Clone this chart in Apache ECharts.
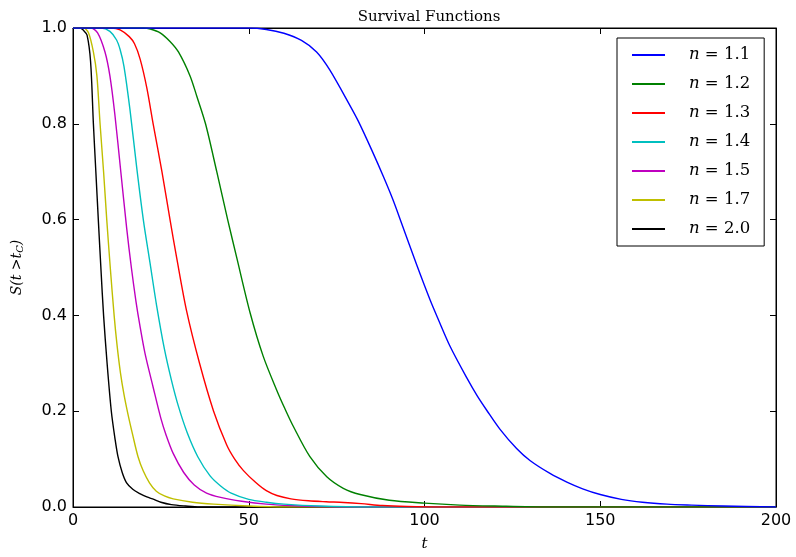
<!DOCTYPE html>
<html>
<head>
<meta charset="utf-8">
<script src="https://cdn.jsdelivr.net/npm/echarts@6/dist/echarts.min.js"></script>
<style>html,body{margin:0;padding:0;background:#fff;}#c{width:796px;height:557px;}</style>
</head>
<body>
<div id="c"></div>
<script>
const seriesNames = ['1.1', '1.2', '1.3', '1.4', '1.5', '1.7', '2.0'];
const seriesColors = ['#0000ff', '#008000', '#ff0000', '#00bfbf', '#bf00bf', '#bfbf00', '#000000'];

const t11 = [0, 50, 55, 60, 65, 69.3, 73, 78.8, 81.2, 85, 88.3, 91, 93.5, 97.8, 101.6, 103.9, 107.3, 112, 115, 117.7, 121.5, 126.2, 130, 135.7, 140.5, 145, 150, 156, 162, 169, 176, 185, 200];
const s11 = [1, 1, 0.997, 0.989, 0.974, 0.95, 0.913, 0.838, 0.805, 0.745, 0.69, 0.642, 0.592, 0.505, 0.432, 0.392, 0.335, 0.27, 0.232, 0.202, 0.162, 0.122, 0.097, 0.07, 0.052, 0.038, 0.026, 0.016, 0.01, 0.006, 0.004, 0.002, 0];

const t12 = [0, 20, 22, 24.8, 27.6, 30, 33.3, 35.2, 37.7, 40.9, 44, 46.6, 50.4, 54.1, 57.9, 60.3, 62.7, 67.4, 72.2, 76.9, 81.7, 90, 100, 110, 120, 135, 200];
const s12 = [1, 1, 0.998, 0.99, 0.972, 0.95, 0.9, 0.858, 0.8, 0.7, 0.6, 0.52, 0.405, 0.315, 0.245, 0.205, 0.168, 0.105, 0.063, 0.039, 0.026, 0.014, 0.008, 0.004, 0.002, 0, 0];

const t13 = [0, 11, 13.4, 16, 17.5, 19.1, 21, 22.8, 25.3, 27.6, 29.5, 32.3, 36, 40, 43.7, 46, 48.5, 52, 55, 58, 62, 67, 72, 77, 82, 88, 95, 105, 200];
const s13 = [1, 1, 0.996, 0.982, 0.967, 0.935, 0.875, 0.8, 0.7, 0.6, 0.52, 0.41, 0.3, 0.2, 0.13, 0.1, 0.076, 0.051, 0.034, 0.024, 0.017, 0.013, 0.011, 0.0095, 0.007, 0.003, 0.001, 0, 0];

const t14 = [0, 8, 10.5, 12.4, 13.4, 14.5, 16.2, 18.1, 20, 21.9, 23.8, 26, 28, 30, 32.5, 35.5, 39, 42, 45, 50, 55, 60, 70, 85, 200];
const s14 = [1, 1, 0.993, 0.975, 0.955, 0.92, 0.83, 0.71, 0.6, 0.51, 0.42, 0.33, 0.265, 0.21, 0.155, 0.105, 0.065, 0.044, 0.029, 0.016, 0.01, 0.006, 0.002, 0, 0];

const t15 = [0, 5, 7, 9.1, 10.5, 11.9, 13.6, 15.3, 16.6, 17.9, 19, 20.5, 22.8, 25, 26.5, 28.5, 31.5, 34.5, 38, 42, 48, 55, 65, 80, 200];
const s15 = [1, 1, 0.99, 0.95, 0.9, 0.82, 0.7, 0.58, 0.5, 0.43, 0.38, 0.32, 0.25, 0.185, 0.15, 0.112, 0.072, 0.046, 0.029, 0.02, 0.012, 0.006, 0.002, 0, 0];

const t17 = [0, 3, 4.4, 5.8, 6.8, 7.7, 8.7, 9.6, 10.6, 11.7, 12.5, 13.5, 14.5, 15.6, 17, 18.5, 20, 21.8, 23.7, 26, 28.5, 34, 40, 50, 60, 200];
const s17 = [1, 1, 0.99, 0.95, 0.9, 0.8, 0.7, 0.6, 0.5, 0.4, 0.34, 0.28, 0.235, 0.195, 0.15, 0.105, 0.075, 0.05, 0.033, 0.023, 0.017, 0.01, 0.006, 0.002, 0, 0];

const t20 = [0, 2, 3, 4, 5, 5.8, 6.5, 7.2, 8, 8.7, 9.7, 10.9, 12, 12.8, 14, 15.2, 17, 19, 21, 23, 25, 28, 32, 36, 200];
const s20 = [1, 1, 0.995, 0.985, 0.93, 0.8, 0.7, 0.6, 0.49, 0.4, 0.3, 0.2, 0.14, 0.105, 0.072, 0.051, 0.037, 0.028, 0.021, 0.016, 0.01, 0.005, 0.002, 0, 0];

const xTicks = [0, 50, 100, 150, 200];
const yTicks = [0, 0.2, 0.4, 0.6, 0.8, 1.0];

const tArrays = [t11, t12, t13, t14, t15, t17, t20];
const sArrays = [s11, s12, s13, s14, s15, s17, s20];

const chart = echarts.init(document.getElementById('c'));
const mathFont = 'DejaVu Serif';
const tickFont = 'DejaVu Sans';

const series = seriesNames.map((n, i) => ({
  name: n,
  type: 'line',
  xAxisIndex: 0,
  yAxisIndex: 0,
  data: tArrays[i].map((t, k) => [t, sArrays[i][k]]),
  showSymbol: false,
  symbol: 'none',
  smooth: 0.3,
  sampling: null,
  lineStyle: { color: seriesColors[i], width: 1.4, join: 'round' },
  itemStyle: { color: seriesColors[i] },
  z: 10 - i
}));

const axisCommon = {
  axisLine: { show: true, onZero: false, lineStyle: { color: '#000', width: 1 } },
  axisTick: { show: true, inside: true, length: 6, lineStyle: { color: '#000', width: 1 } },
  splitLine: { show: false }
};

chart.setOption({
  animation: false,
  backgroundColor: '#fff',
  title: {
    text: 'Survival Functions',
    left: 424, top: 5, textAlign: 'center',
    textStyle: { fontFamily: mathFont, fontWeight: 'normal', fontSize: 15, color: '#000' }
  },
  grid: { left: 73, right: 20, top: 28, bottom: 44, show: true, borderColor: '#000', borderWidth: 1, backgroundColor: 'transparent' },
  legend: {
    orient: 'vertical',
    left: 617, top: 38,
    padding: [7, 14, 7, 15],
    itemGap: 9,
    itemWidth: 33, itemHeight: 2,
    icon: 'rect',
    backgroundColor: '#fff',
    borderColor: '#000', borderWidth: 1, borderRadius: 0,
    data: seriesNames,
    formatter: n => '{i|n}{r| = ' + n + '}',
    textStyle: {
      padding: [0, 0, 0, 19],
      lineHeight: 20,
      rich: {
        i: { fontFamily: mathFont, fontStyle: 'italic', fontSize: 16.5, color: '#000' },
        r: { fontFamily: mathFont, fontSize: 16.5, color: '#000' }
      }
    }
  },
  xAxis: [
    Object.assign({}, axisCommon, {
      type: 'value', position: 'bottom', min: 0, max: 200, interval: 50,
      axisLabel: { show: true, margin: 6, fontFamily: tickFont, fontSize: 16, color: '#000',
        formatter: v => xTicks.indexOf(v) >= 0 ? String(v) : '' },
      name: 't', nameLocation: 'middle', nameGap: 30,
      nameTextStyle: { fontFamily: mathFont, fontStyle: 'italic', fontSize: 15, color: '#000' }
    }),
    Object.assign({}, axisCommon, {
      type: 'value', position: 'top', min: 0, max: 200, interval: 50,
      axisLabel: { show: false }
    })
  ],
  yAxis: [
    Object.assign({}, axisCommon, {
      type: 'value', position: 'left', min: 0, max: 1, interval: 0.2,
      axisLabel: { show: true, margin: 6, fontFamily: tickFont, fontSize: 16, color: '#000',
        formatter: v => yTicks.some(y => Math.abs(y - v) < 1e-9) ? v.toFixed(1) : '' },
      name: '{a|S(t >t}{s|C}{a|)}', nameLocation: 'middle', nameGap: 48, nameRotate: 90,
      nameTextStyle: {
        rich: {
          a: { fontFamily: mathFont, fontStyle: 'italic', fontSize: 14, color: '#000' },
          s: { fontFamily: mathFont, fontStyle: 'italic', fontSize: 10, color: '#000', padding: [6, 0, 0, 0] }
        }
      }
    }),
    Object.assign({}, axisCommon, {
      type: 'value', position: 'right', min: 0, max: 1, interval: 0.2,
      axisLabel: { show: false }
    })
  ],
  series: series
});
</script>
</body>
</html>
